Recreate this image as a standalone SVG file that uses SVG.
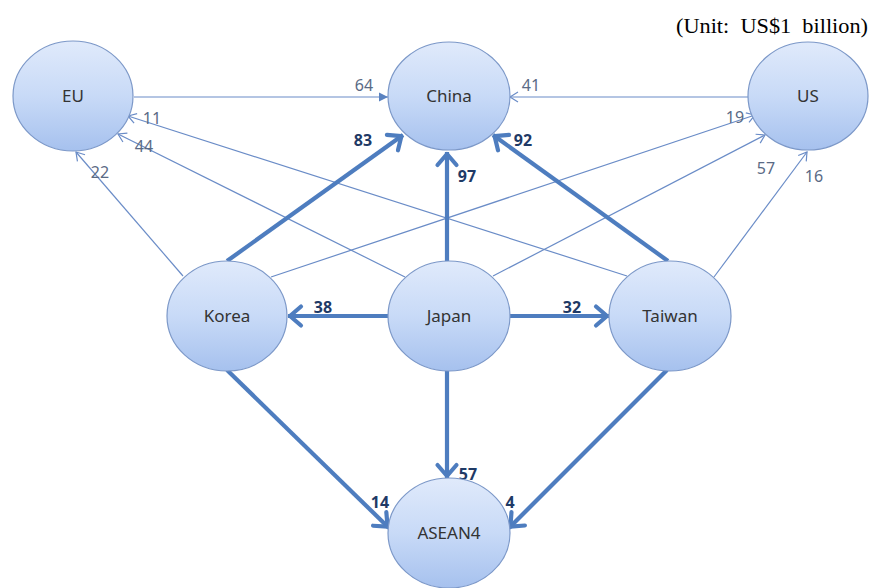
<svg xmlns="http://www.w3.org/2000/svg" width="869" height="588" viewBox="0 0 869 588">
<defs>
<linearGradient id="g" x1="0" y1="0" x2="0" y2="1">
<stop offset="0" stop-color="#E0EAFB"/>
<stop offset="0.5" stop-color="#C8DAF7"/>
<stop offset="1" stop-color="#A6C1EE"/>
</linearGradient>
<marker id="ot" markerUnits="userSpaceOnUse" viewBox="-12 -8 14 16" markerWidth="14" markerHeight="16" refX="0" refY="0" orient="auto">
<path d="M -8 -5 L 0 0 L -8 5" fill="none" stroke="#6A8CC7" stroke-width="1.2"/>
</marker>
<marker id="ft" markerUnits="userSpaceOnUse" viewBox="-12 -8 14 16" markerWidth="14" markerHeight="16" refX="0" refY="0" orient="auto">
<path d="M -9 -4.5 L 0 0 L -9 4.5 Z" fill="#5A82C0"/>
</marker>
<marker id="ok" markerUnits="userSpaceOnUse" viewBox="-20 -14 24 28" markerWidth="24" markerHeight="28" refX="0" refY="0" orient="auto">
<path d="M -13 -9.5 L -2 0 L -13 9.5" fill="none" stroke="#4E7DBF" stroke-width="4.2" stroke-linecap="round" stroke-linejoin="round"/>
</marker>
</defs>
<style>
.n{fill:url(#g);stroke:#7C98C8;stroke-width:1.2}
.nt{font-family:"Noto Sans","Open Sans",sans-serif;font-size:17px;fill:#333;text-anchor:middle}
.th{stroke:#6A8CC7;stroke-width:1.2;fill:none}
.tk{stroke:#4E7DBF;stroke-width:4.2;fill:none}
.lt{font-family:"Noto Sans","Open Sans",sans-serif;font-size:16px;fill:#5A6A85;text-anchor:middle}
.lk{font-family:"Noto Sans","Open Sans",sans-serif;font-size:16px;font-weight:bold;fill:#1F3A66;text-anchor:middle}
</style>
<rect width="869" height="588" fill="#fff"/>
<text x="676" y="33" font-family="Liberation Serif,serif" font-size="21" fill="#000" textLength="192" lengthAdjust="spacingAndGlyphs" xml:space="preserve">(Unit:  US$1  billion)</text>
<g id="connectors">
<line class="th" x1="134" y1="97" x2="388" y2="97" marker-end="url(#ft)"/>
<line class="th" x1="748" y1="97" x2="510" y2="97" marker-end="url(#ot)"/>
<line class="th" x1="627" y1="276" x2="128" y2="116" marker-end="url(#ot)"/>
<line class="th" x1="405" y1="277" x2="118" y2="134" marker-end="url(#ot)"/>
<line class="th" x1="183" y1="276" x2="76" y2="152" marker-end="url(#ot)"/>
<line class="th" x1="271" y1="277" x2="755" y2="115" marker-end="url(#ot)"/>
<line class="th" x1="493" y1="276" x2="765" y2="135" marker-end="url(#ot)"/>
<line class="th" x1="714" y1="277" x2="807" y2="152" marker-end="url(#ot)"/>
<line class="tk" x1="227" y1="261" x2="403" y2="135" marker-end="url(#ok)"/>
<line class="tk" x1="447" y1="261" x2="447" y2="152" marker-end="url(#ok)"/>
<line class="tk" x1="668" y1="261" x2="493" y2="135" marker-end="url(#ok)"/>
<line class="tk" x1="388" y1="316" x2="288" y2="316" marker-end="url(#ok)"/>
<line class="tk" x1="510" y1="316" x2="609" y2="316" marker-end="url(#ok)"/>
<line class="tk" x1="447" y1="371" x2="447" y2="478" marker-end="url(#ok)"/>
<line class="tk" x1="227" y1="370" x2="389" y2="528" marker-end="url(#ok)"/>
<line class="tk" x1="667" y1="370" x2="509" y2="528" marker-end="url(#ok)"/>
<text class="lt" x="364" y="91">64</text>
<text class="lt" x="531" y="91">41</text>
<text class="lt" x="152" y="124">11</text>
<text class="lt" x="144" y="152">44</text>
<text class="lt" x="100" y="178">22</text>
<text class="lt" x="735" y="123">19</text>
<text class="lt" x="766" y="174">57</text>
<text class="lt" x="814" y="182">16</text>
<text class="lk" x="363" y="146">83</text>
<text class="lk" x="523" y="146">92</text>
<text class="lk" x="467" y="182">97</text>
<text class="lk" x="323" y="313">38</text>
<text class="lk" x="572" y="313">32</text>
<text class="lk" x="468" y="480">57</text>
<text class="lk" x="380" y="508">14</text>
<text class="lk" x="510" y="508">4</text>
</g>
<g id="EU"><ellipse class="n" cx="73" cy="96" rx="60" ry="55"/><text class="nt" x="73" y="102">EU</text></g>
<g id="China"><ellipse class="n" cx="449" cy="96" rx="61" ry="54"/><text class="nt" x="449" y="102">China</text></g>
<g id="US"><ellipse class="n" cx="808" cy="96" rx="60" ry="54"/><text class="nt" x="808" y="102">US</text></g>
<g id="Korea"><ellipse class="n" cx="227" cy="316" rx="60" ry="55"/><text class="nt" x="227" y="322">Korea</text></g>
<g id="Japan"><ellipse class="n" cx="449" cy="316" rx="61" ry="55"/><text class="nt" x="449" y="322">Japan</text></g>
<g id="Taiwan"><ellipse class="n" cx="670" cy="316" rx="61" ry="55"/><text class="nt" x="670" y="322">Taiwan</text></g>
<g id="ASEAN4"><ellipse class="n" cx="449" cy="533" rx="61" ry="55"/><text class="nt" x="449" y="539">ASEAN4</text></g>
</svg>
